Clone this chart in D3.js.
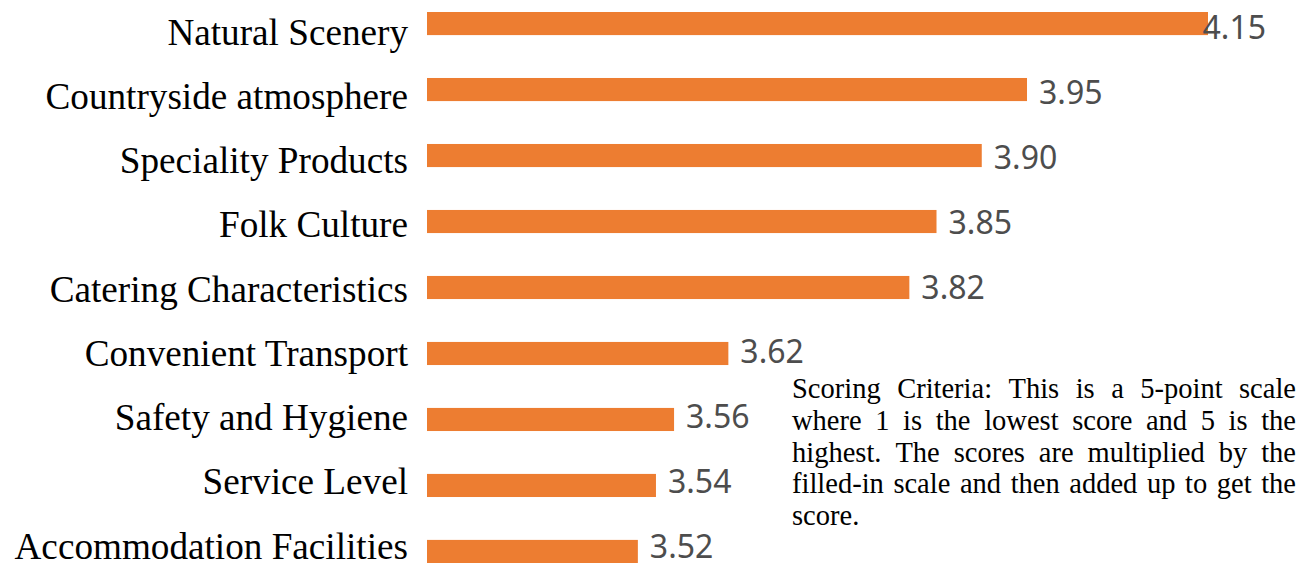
<!DOCTYPE html>
<html>
<head>
<meta charset="utf-8">
<script src="https://cdn.jsdelivr.net/npm/d3@7"></script>
<style>
  html, body { margin: 0; padding: 0; background: #fff; }
  svg { display: block; }
</style>
</head>
<body>
<svg id="chart" width="1308" height="567"></svg>
<script>
const categories = [
  "Natural Scenery",
  "Countryside atmosphere",
  "Speciality Products",
  "Folk Culture",
  "Catering Characteristics",
  "Convenient Transport",
  "Safety and Hygiene",
  "Service Level",
  "Accommodation Facilities"
];
const scores = [4.15, 3.95, 3.90, 3.85, 3.82, 3.62, 3.56, 3.54, 3.52];
const valueLabels = ["4.15", "3.95", "3.90", "3.85", "3.82", "3.62", "3.56", "3.54", "3.52"];
const noteLines = [
  "Scoring Criteria: This is a 5-point scale",
  "where 1 is the lowest score and 5 is the",
  "highest. The scores are multiplied by the",
  "filled-in scale and then added up to get the",
  "score."
];

const svg = d3.select("#chart");

const x = d3.scaleLinear().domain([3.287, 4.15]).range([427, 1208]);
const y = d3.scaleBand().domain(categories).range([12, 563]).paddingInner(0.65).paddingOuter(0).align(0);
// label baselines (category labels are spaced slightly tighter than the bars)
const yLab = d3.scalePoint().domain(categories).range([44.5, 558.5]);
const yVal = d3.scalePoint().domain(categories).range([39, 558]);

const data = categories.map((c, i) => ({ cat: c, v: scores[i], lab: valueLabels[i] }));

// bars
svg.append("g").selectAll("rect").data(data).join("rect")
  .attr("x", x.range()[0])
  .attr("y", d => y(d.cat))
  .attr("width", d => x(d.v) - x.range()[0])
  .attr("height", y.bandwidth())
  .attr("fill", "#ED7D31");

// category labels
svg.append("g").selectAll("text").data(data).join("text")
  .attr("x", 408)
  .attr("y", d => yLab(d.cat))
  .attr("text-anchor", "end")
  .attr("font-family", "'Liberation Serif', 'Times New Roman', serif")
  .attr("font-size", 37.2)
  .attr("fill", "#000")
  .text(d => d.cat);

// value labels
svg.append("g").selectAll("text").data(data).join("text")
  .attr("x", d => x(d.v) + 12)
  .attr("y", d => yVal(d.cat))
  .attr("font-family", "'Noto Sans', 'Open Sans', sans-serif")
  .attr("font-size", 32)
  .attr("fill", "#4d4d4d")
  .text(d => d.lab)
  .each(function(d) {
    const w = this.getComputedTextLength();
    const right = 1266;
    if (x(d.v) + 12 + w > right) d3.select(this).attr("x", right - w);
  });

// justified note
const noteG = svg.append("g")
  .attr("font-family", "'Liberation Serif', 'Times New Roman', serif")
  .attr("font-size", 28.5)
  .attr("fill", "#000");
const noteLeft = 792, noteRight = 1296, noteTop = 398, noteLH = 31.8;
noteLines.forEach((line, li) => {
  const words = line.split(" ");
  const yy = noteTop + li * noteLH;
  const last = li === noteLines.length - 1;
  const tmp = words.map(w => noteG.append("text").attr("y", yy).text(w));
  const widths = tmp.map(t => t.node().getComputedTextLength());
  const total = d3.sum(widths);
  const gap = last || words.length < 2 ? 7 : (noteRight - noteLeft - total) / (words.length - 1);
  let cx = noteLeft;
  tmp.forEach((t, i) => { t.attr("x", cx); cx += widths[i] + gap; });
});
</script>
</body>
</html>
